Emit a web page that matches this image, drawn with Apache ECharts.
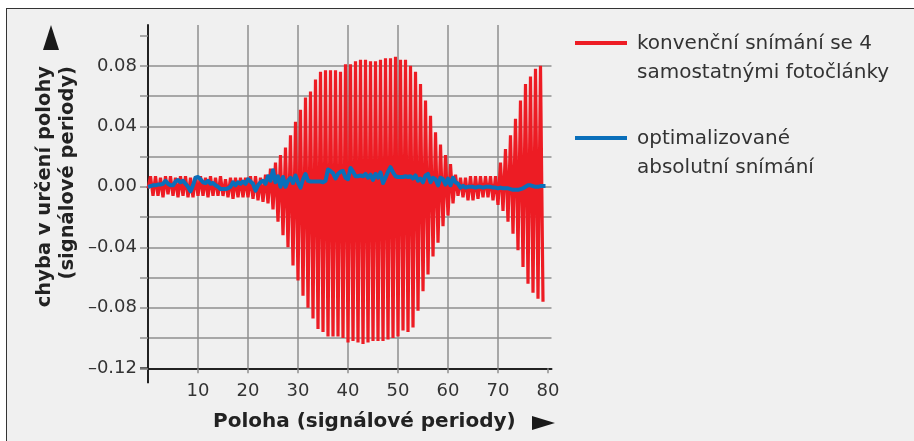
<!DOCTYPE html>
<html><head><meta charset="utf-8">
<script src="https://cdn.jsdelivr.net/npm/echarts@6/dist/echarts.min.js"></script>
<style>
html,body{margin:0;padding:0;background:#fff;overflow:hidden}
#panel{position:absolute;left:6px;top:8px;width:930px;height:460px;background:#f0f0f0;border:1.5px solid #333;}
#c{position:absolute;left:0;top:0;width:914px;height:441px}
</style>
</head><body><div id="panel"></div><div id="c"></div>
<script>
// ---- data (values in thousandths of a signal period) ----
const seriesNames = ['konvenční snímání se 4\nsamostatnými fotočlánky', 'optimalizované\nabsolutní snímání'];
const seriesColors = ['#ed1c24', '#0a6fba'];
const xStep = 0.5; // sampling step of read-off values (signal periods)
const redMilli = [
  -1,7,-6,7,-6,6,-7,7,-5,7,
  -6,6,-7,7,-6,7,-7,6,-7,7,
  -6,7,-6,6,-7,7,-6,6,-6,7,
  -6,5,-7,6,-8,6,-7,6,-7,6,
  -7,7,-8,7,-9,6,-10,8,-11,12,
  -15,16,-23,21,-32,26,-40,34,-52,43,
  -62,51,-72,59,-80,63,-87,71,-94,76,
  -96,77,-99,77,-99,77,-99,76,-100,81,
  -103,81,-102,83,-103,84,-104,84,-103,83,
  -102,83,-102,84,-102,85,-101,85,-100,86,
  -99,84,-95,84,-96,80,-93,76,-82,68,
  -69,57,-58,47,-46,36,-37,28,-26,21,
  -19,15,-11,8,-6,6,-7,6,-9,7,
  -9,7,-8,7,-7,7,-7,7,-9,7,
  -12,16,-16,25,-23,34,-31,45,-42,57,
  -53,68,-64,73,-70,78,-74,80,-76
];
const blueMilli = [
  0,0.5,1,1,1.5,1.5,2,4,2,1,
  1,3.5,4.5,3,4,2,0,-3,1,6,
  6.5,5,3,2.5,4,2,2.5,1,0,-1.5,
  -1.5,-1.5,-1,0,3,1,3,2,3.5,2,
  5,3.5,2,-2.5,1,3,4,2,7,4,
  11,3,7,0,6.5,0,4,6,2.5,7.5,
  3,-0.5,5,8.5,4,3.5,3.5,3.5,3.5,3.5,
  3,4,11.5,10.5,9,5.5,8.5,10,10.5,6,
  5,12.5,10,7,7,7.5,7,8.5,6,8,
  4.5,8.5,6,9.5,2.5,6,10,13,9.5,7,
  6.5,6.5,6.5,7,6.5,7,5.5,7.5,4,5.5,
  3,7.5,8.5,3,6,5,1,6,5,1.5,
  5.5,1,6,3,2,-0.5,0.5,-0.5,0,0,
  0,-0.5,0,0,-0.5,0,0,0,-0.5,-0.5,
  -1,-0.5,-1,-1,-1,-1.5,-2,-2,-2,-1.5,
  -1,0,1,1,0.5,0,0,0.5,0.5,0.5
];
const xTickValues = [10,20,30,40,50,60,70,80];
const yTickValues = [-0.12,-0.10,-0.08,-0.06,-0.04,-0.02,0,0.02,0.04,0.06,0.08,0.10];
const yLabelValues = [-0.12,-0.08,-0.04,0,0.04,0.08];
const xTitle = 'Poloha (signálové periody)';
const yTitleLines = ['chyba v určení polohy', '(signálové periody)'];

// ---- build ----
const toPairs = arr => arr.map((v, i) => [i * xStep, v / 1000]);
const FONT = '"DejaVu Sans", sans-serif';
const gridColor = '#8f8f8f';
const axisColor = '#222';

const chart = echarts.init(document.getElementById('c'), null, {renderer: 'canvas'});
const fmtY = v => {
  const r = Math.round(v * 100) / 100;
  if (!yLabelValues.some(t => Math.abs(t - r) < 1e-9)) return '';
  return (r < 0 ? '–' : '') + Math.abs(r).toFixed(2);
};
const option = {
  backgroundColor: 'transparent',
  animation: false,
  grid: {left: 148, top: 25, width: 403.5, height: 343.3, containLabel: false},
  xAxis: {
    type: 'value', min: 0, max: 80.7, interval: 10,
    axisLine: {onZero: false, lineStyle: {color: axisColor, width: 2}},
    axisTick: {show: true, length: 5, customValues: xTickValues, lineStyle: {color: gridColor, width: 1.5}},
    axisLabel: {customValues: xTickValues, margin: 14, fontFamily: FONT, fontSize: 18, color: '#333',
      formatter: v => xTickValues.includes(v) ? String(v) : ''},
    splitLine: {show: true, showMaxLine: false, lineStyle: {color: gridColor, width: 1.5}}
  },
  yAxis: {
    type: 'value', min: -0.12, max: 0.107, interval: 0.02,
    axisLine: {onZero: false, lineStyle: {color: axisColor, width: 2}},
    axisTick: {show: true, length: 8, customValues: yTickValues, lineStyle: {color: gridColor, width: 1.5}},
    axisLabel: {customValues: yLabelValues, margin: 11, fontFamily: FONT, fontSize: 18, color: '#333', formatter: fmtY},
    splitLine: {show: true, showMaxLine: false, showMinLine: false, lineStyle: {color: gridColor, width: 1.5}}
  },
  series: [
    {name: seriesNames[0], type: 'line', data: toPairs(redMilli), showSymbol: false, symbol: 'none',
      lineStyle: {color: seriesColors[0], width: 3.2, join: 'bevel'}, z: 2},
    {name: seriesNames[1], type: 'line', data: toPairs(blueMilli), showSymbol: false, symbol: 'none',
      lineStyle: {color: seriesColors[1], width: 4, join: 'round'}, z: 3}
  ]
};
chart.setOption(option);

// ---- decorations: titles, arrows, legend, axis extensions ----
const origin = chart.convertToPixel({gridIndex: 0}, [0, -0.12]);
const g = [];
g.push({type: 'line', shape: {x1: origin[0], y1: origin[1], x2: origin[0], y2: origin[1] + 15}, style: {stroke: axisColor, lineWidth: 2}});
g.push({type: 'line', shape: {x1: origin[0] - 8, y1: origin[1], x2: origin[0], y2: origin[1]}, style: {stroke: axisColor, lineWidth: 2}});
// y title
const yTitleX = [45, 68];
yTitleLines.forEach((t, i) => g.push({type: 'text', x: yTitleX[i], y: 66, rotation: Math.PI / 2,
  style: {text: t, font: 'bold 19.5px ' + FONT, fill: '#222', textAlign: 'right', textVerticalAlign: 'middle'}}));
g.push({type: 'polygon', shape: {points: [[43, 50], [59, 50], [51, 25]]}, style: {fill: '#1a1a1a'}});
// x title
g.push({type: 'text', x: 213, y: 422, style: {text: xTitle, font: 'bold 20px ' + FONT, fill: '#222', textAlign: 'left', textVerticalAlign: 'middle'}});
g.push({type: 'polygon', shape: {points: [[532, 416], [532, 430], [555, 423]]}, style: {fill: '#1a1a1a'}});
// legend
const legendY = [43, 138];
seriesNames.forEach((name, i) => {
  g.push({type: 'line', shape: {x1: 575, y1: legendY[i], x2: 627, y2: legendY[i]}, style: {stroke: seriesColors[i], lineWidth: 4}});
  name.split('\n').forEach((ln, j) => g.push({type: 'text', x: 637, y: legendY[i] + 1 + j * 28.5,
    style: {text: ln, font: '20px ' + FONT, fill: '#333', textAlign: 'left', textVerticalAlign: 'middle'}}));
});
chart.setOption({graphic: {elements: g}});
</script>
</body></html>
